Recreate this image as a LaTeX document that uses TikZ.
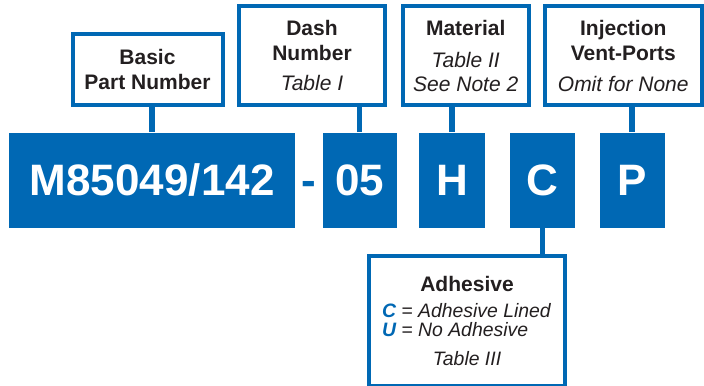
\documentclass[tikz,border=0pt]{standalone}
\usepackage{fontspec}
\setmainfont{Liberation Sans}
\usepackage{tikz}
\definecolor{mil}{HTML}{0068B4}
\definecolor{ink}{HTML}{231F20}
\newcommand{\code}[1]{\textbf{\textit{\color{mil}#1}}}
\newcommand{\adhline}[1]{\makebox[85pt][l]{\fontsize{9.7}{12.5}\selectfont#1}}

\begin{document}
\begin{tikzpicture}[x=0.5pt,y=-0.5pt,font=\fontsize{10.5}{12.5}\selectfont,
  lbl/.style={draw=mil,line width=2pt,fill=white,align=center,text=ink,inner sep=0pt},
  seg/.style={fill=mil,text=white,inner sep=0pt,minimum height=47.5pt,text height=15.75pt,text depth=0pt,
    font=\fontsize{22}{26}\selectfont\bfseries},
  lnk/.style={draw=mil,line width=2.75pt}]
\useasboundingbox (0,0) rectangle (704,385);
% part number segments
\node[seg,minimum width=142.8pt] (base) at (152.2,180) {M85049/142};
\node[seg,fill=none,text=mil]    (sep)  at (309,180)   {-};
\node[seg,minimum width=37pt]    (dash) at (359.5,180) {05};
\node[seg,minimum width=33pt]    (mat)  at (452,180)   {H};
\node[seg,minimum width=32.5pt]  (adh)  at (542.5,180) {C};
\node[seg,minimum width=32.5pt]  (vent) at (632,180)   {P};
% callouts
\node[lbl,minimum width=75pt,minimum height=35.5pt] (basicbox) at (147.5,69.5)
  {\textbf{Basic}\\\textbf{Part Number}};
\node[lbl,minimum width=73pt,minimum height=49.5pt] (dashbox) at (312,55.5)
  {\textbf{Dash}\\\textbf{Number}\\[2.85pt]\textit{Table I}};
\node[lbl,minimum width=63.25pt,minimum height=49.5pt] (matbox) at (465.75,55.5)
  {\textbf{Material}\\[3.5pt]\textit{Table II}\\[-0.5pt]\textit{See Note 2}};
\node[lbl,minimum width=78.75pt,minimum height=49.5pt] (ventbox) at (623.25,55.5)
  {\textbf{Injection}\\\textbf{Vent-Ports}\\[3pt]\textit{Omit for None}};
\node[lbl,minimum width=98pt,minimum height=65pt] (adhbox) at (467,321)
  {\textbf{Adhesive}\\[0.75pt]
   \adhline{\code{C} \textit{= Adhesive Lined}}\\[-3.35pt]
   \adhline{\code{U} \textit{= No Adhesive}}\\[2.35pt]
   {\fontsize{9.7}{12.5}\selectfont\textit{Table III}}};
% leaders
\foreach \s/\b in {base/basicbox,dash/dashbox,mat/matbox,vent/ventbox}
  \draw[lnk] (\s.north) -- (\s.north |- \b.south);
\draw[lnk] (adh.south) -- (adh.south |- adhbox.north);
\end{tikzpicture}
\end{document}
